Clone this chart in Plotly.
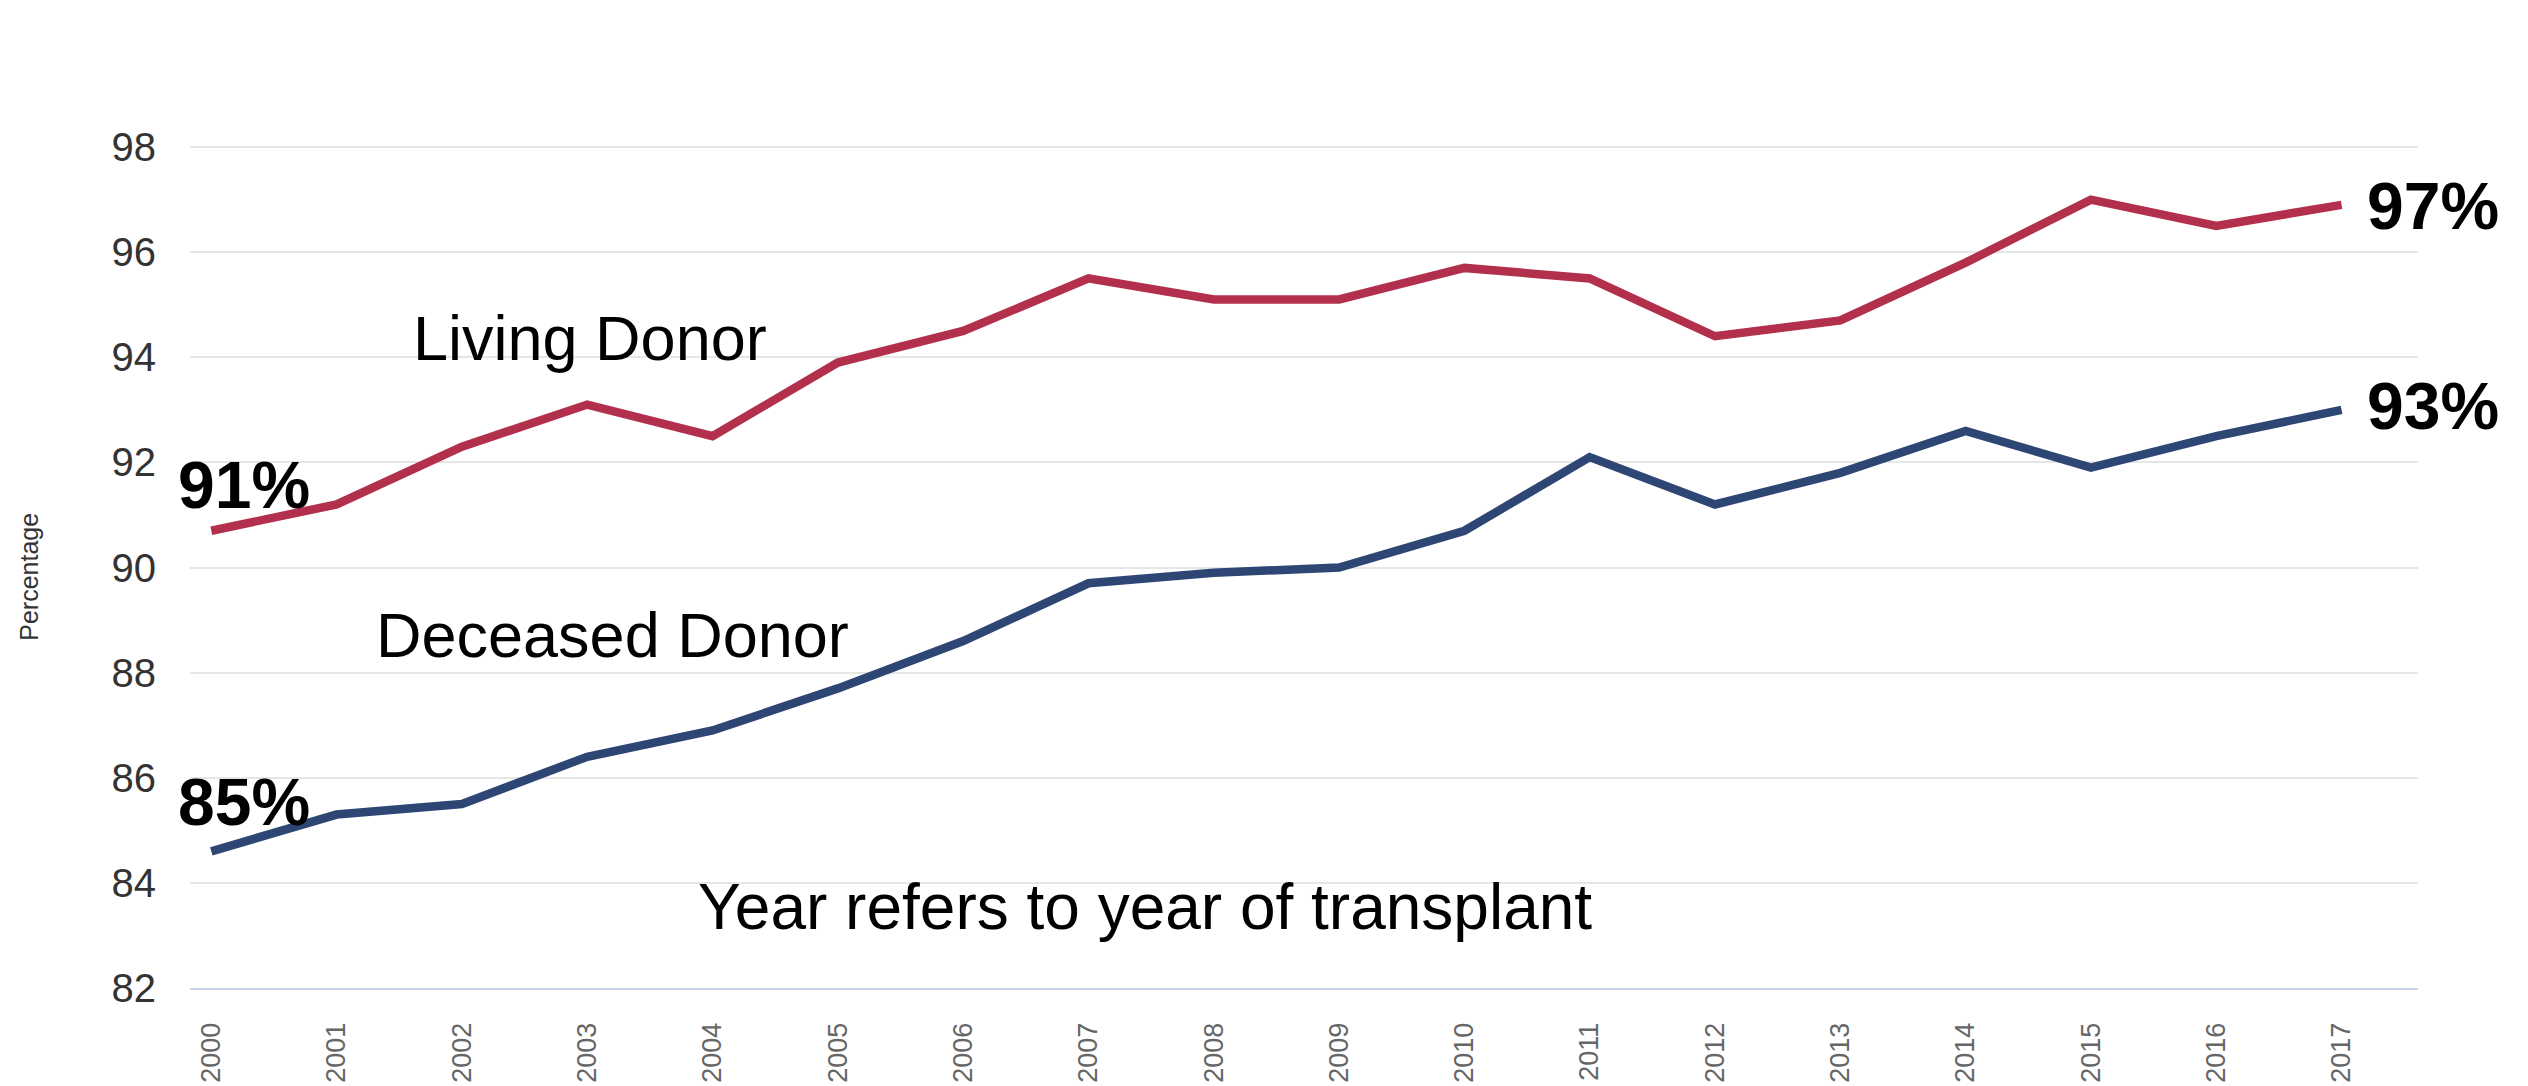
import plotly.graph_objects as go

years = list(range(2000, 2018))
living_donor = [90.7, 91.2, 92.3, 93.1, 92.5, 93.9, 94.5, 95.5, 95.1, 95.1,
                95.7, 95.5, 94.4, 94.7, 95.8, 97.0, 96.5, 96.9]
deceased_donor = [84.6, 85.3, 85.5, 86.4, 86.9, 87.7, 88.6, 89.7, 89.9, 90.0,
                  90.7, 92.1, 91.2, 91.8, 92.6, 91.9, 92.5, 93.0]
y_ticks = [82, 84, 86, 88, 90, 92, 94, 96, 98]

RED = "#B3304C"
BLUE = "#2D4674"
FONT = "Liberation Sans, Arial, Helvetica, sans-serif"

fig = go.Figure()
fig.add_trace(go.Scatter(x=years, y=living_donor, mode="lines", name="Living Donor",
                         line=dict(color=RED, width=8.5), hoverinfo="x+y"))
fig.add_trace(go.Scatter(x=years, y=deceased_donor, mode="lines", name="Deceased Donor",
                         line=dict(color=BLUE, width=8.5), hoverinfo="x+y"))

ann = []
def label(text, x, y, size, bold=False, xanchor="center"):
    ann.append(dict(x=x, y=y, xref="x", yref="y", text=f"<b>{text}</b>" if bold else text,
                    showarrow=False, xanchor=xanchor, yanchor="middle",
                    font=dict(family=FONT, size=size, color="#000000")))

label("Living Donor", 2003.02, 94.36, 63)
label("Deceased Donor", 2003.2, 88.72, 63)
label("Year refers to year of transplant", 2007.45, 83.54, 64)
label(f"{round(living_donor[0])}%", 2000.26, 91.57, 66, bold=True)
label(f"{round(deceased_donor[0])}%", 2000.26, 85.53, 66, bold=True)
label(f"{round(living_donor[-1])}%", 2017.19, 96.87, 66, bold=True, xanchor="left")
label(f"{round(deceased_donor[-1])}%", 2017.19, 93.07, 66, bold=True, xanchor="left")

ann.append(dict(x=-0.0723, y=0.477, xref="paper", yref="paper", text="Percentage",
                textangle=-90, showarrow=False, xanchor="center", yanchor="middle",
                font=dict(family=FONT, size=25, color="#333333")))

fig.update_layout(
    width=2528, height=1086,
    margin=dict(l=190, r=110, t=126, b=98, autoexpand=False),
    paper_bgcolor="white", plot_bgcolor="white",
    showlegend=False,
    font=dict(family=FONT),
    annotations=ann,
    xaxis=dict(
        range=[1999.83, 2017.61],
        tickmode="array", tickvals=years, ticktext=[str(y) for y in years],
        tickangle=-90,
        tickfont=dict(family=FONT, size=27, color="#666666"),
        showgrid=False, zeroline=False,
        showline=True, linecolor="#ccd6eb", linewidth=2,
        ticks="", ticklabelstandoff=22, automargin=False,
    ),
    yaxis=dict(
        range=[82, 98.4],
        tickmode="array", tickvals=y_ticks, ticktext=[str(v) for v in y_ticks],
        tickfont=dict(family=FONT, size=40, color="#333333"),
        showgrid=True, gridcolor="#e6e6e6", gridwidth=2,
        zeroline=False, showline=False, ticks="", ticklabelstandoff=33,
        automargin=False,
    ),
)

fig.write_html("out.html", config={"displayModeBar": False},
               post_script="document.body.style.margin='0px';")
